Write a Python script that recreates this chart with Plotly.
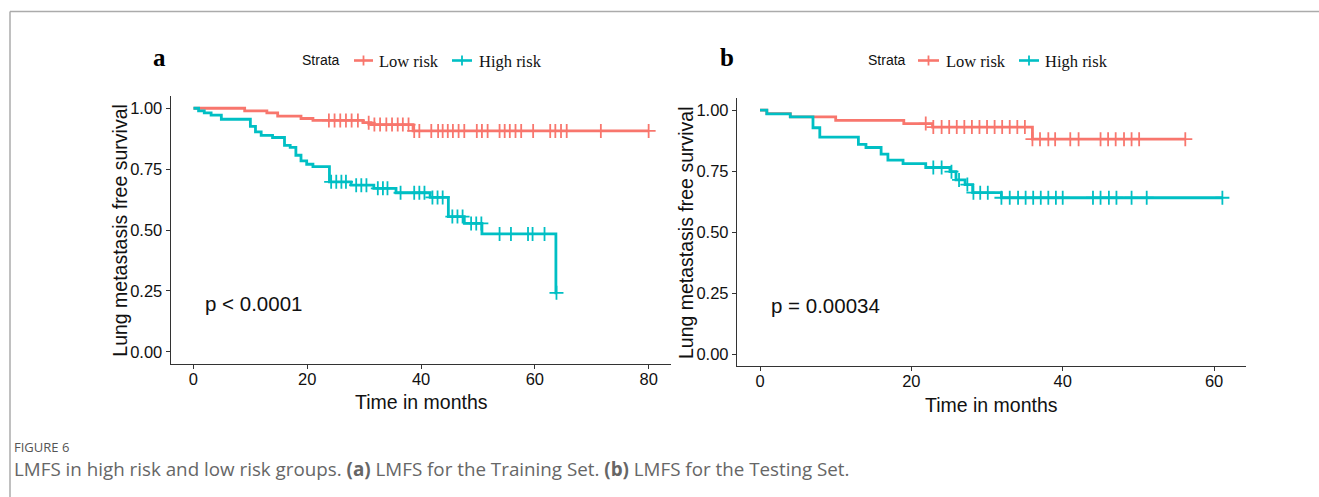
import numpy as np
import plotly.graph_objects as go

W, H = 1319, 497

# ---------------- data ----------------
# Panel a: Training set
a_low_times = [0, 9.0, 12.9, 14.8, 18.9, 21.0, 29.8, 31.2, 38.6]
a_low_surv = [1.0, 0.989, 0.981, 0.968, 0.958, 0.950, 0.941, 0.933, 0.907]
a_low_censor = [23.8, 24.8, 25.8, 26.8, 27.8, 28.9, 30.8, 31.8, 32.8, 33.9, 34.9, 35.9,
                36.8, 37.8, 38.8, 39.7, 41.8, 43.0, 43.8, 44.7, 45.6, 46.6, 47.6, 49.8,
                50.7, 51.7, 53.8, 54.7, 55.6, 56.6, 57.6, 59.7, 62.7, 63.6, 64.6, 65.6,
                71.6, 80.0]

a_high_times = [0, 0.9, 1.9, 3.1, 4.9, 10.0, 10.9, 11.9, 13.9, 16.0, 17.0, 18.0, 18.9,
                19.9, 21.0, 23.9, 27.7, 31.7, 35.6, 41.6, 44.8, 47.6, 50.7, 63.7]
a_high_surv = [1.0, 0.989, 0.981, 0.972, 0.955, 0.926, 0.903, 0.889, 0.880, 0.848, 0.839,
               0.807, 0.784, 0.770, 0.760, 0.698, 0.684, 0.671, 0.653, 0.634, 0.555,
               0.527, 0.484, 0.242]
a_high_censor = [24.2, 25.1, 26.0, 26.8, 28.6, 29.5, 30.4, 32.4, 33.3, 34.1, 36.4, 38.8,
                 39.7, 40.6, 42.0, 42.9, 43.8, 45.5, 46.4, 47.3, 48.8, 49.7, 50.6, 53.8,
                 55.8, 58.8, 59.6, 61.7, 63.8]

# Panel b: Testing set
b_low_times = [0, 0.9, 4.0, 10.0, 19.0, 22.8, 36.0]
b_low_surv = [1.0, 0.986, 0.973, 0.958, 0.945, 0.931, 0.881]
b_low_censor = [21.9, 22.9, 24.0, 25.0, 26.0, 27.0, 28.0, 29.0, 30.0, 31.0, 32.0, 33.0,
                34.0, 35.0, 36.0, 37.0, 38.1, 39.0, 41.0, 42.1, 45.0, 46.0, 47.0, 48.1,
                49.1, 50.1, 56.2]

b_high_times = [0, 0.9, 4.0, 7.0, 7.9, 13.0, 14.0, 16.0, 16.9, 18.9, 21.9, 25.1, 25.9,
                27.1, 28.1, 31.9]
b_high_surv = [1.0, 0.985, 0.973, 0.928, 0.890, 0.860, 0.847, 0.820, 0.795, 0.781, 0.765,
               0.748, 0.714, 0.695, 0.662, 0.641]
b_high_censor = [22.9, 24.0, 25.3, 26.3, 27.4, 28.2, 29.1, 30.1, 31.9, 33.0, 34.1, 35.1,
                 36.1, 37.1, 38.1, 39.1, 40.0, 44.0, 45.0, 46.1, 47.1, 49.1, 51.1, 61.1]

strata = ["Low risk", "High risk"]
panel_letters = ["a", "b"]
pvalues = ["p < 0.0001", "p = 0.00034"]
x_ticks_a = [0, 20, 40, 60, 80]
x_ticks_b = [0, 20, 40, 60]
y_ticks = [0.0, 0.25, 0.50, 0.75, 1.00]

# ---------------- styling ----------------
RED = "#F8766D"
TEAL = "#00BFC4"
AXC = "#333333"
SANS = "Liberation Sans, Arial, sans-serif"
SERIF = "Liberation Serif, Times New Roman, serif"


def px(x):
    return x / W


def py(y):
    return 1 - y / H


def step_xy(times, surv, censor):
    end = max(max(times), max(censor) if censor else 0)
    return list(times) + [end], list(surv) + [surv[-1]]


def censor_y(times, surv, censor):
    idx = np.searchsorted(np.array(times), np.array(censor), side="right") - 1
    return [surv[i] for i in idx]


fig = go.Figure()

panels = [
    dict(xa="x", ya="y",
         groups=[(a_low_times, a_low_surv, a_low_censor, RED),
                 (a_high_times, a_high_surv, a_high_censor, TEAL)]),
    dict(xa="x2", ya="y2",
         groups=[(b_low_times, b_low_surv, b_low_censor, RED),
                 (b_high_times, b_high_surv, b_high_censor, TEAL)]),
]

tmaxes = []
for p in panels:
    tmax = 0
    for (t, s, c, col), name in zip(p["groups"], strata):
        xs, ys = step_xy(t, s, c)
        tmax = max(tmax, max(xs))
        fig.add_trace(go.Scatter(x=xs, y=ys, mode="lines", line=dict(color=col, width=2.8, shape="hv"),
                                 name=name, showlegend=False, xaxis=p["xa"], yaxis=p["ya"],
                                 hoverinfo="skip"))
        fig.add_trace(go.Scatter(x=c, y=censor_y(t, s, c), mode="markers",
                                 marker=dict(symbol="cross-thin", size=10, color=col,
                                             line=dict(color=col, width=1.8)),
                                 showlegend=False, xaxis=p["xa"], yaxis=p["ya"], hoverinfo="skip"))
    tmaxes.append(tmax)

# pixel geometry of the two plotting regions
dom_a = dict(x0=170.7, x1=671.4, y0=96.1, y1=363.9)
dom_b = dict(x0=736.9, x1=1245.5, y0=98.0, y1=366.3)

axis_common = dict(showline=True, linecolor=AXC, linewidth=1.2, ticks="outside", ticklen=4,
                   tickwidth=1.2, tickcolor=AXC, showgrid=False, zeroline=False,
                   tickfont=dict(family=SANS, size=16.5, color="#111111"), fixedrange=True)

for i, (dom, ticks, tmax) in enumerate([(dom_a, x_ticks_a, tmaxes[0]), (dom_b, x_ticks_b, tmaxes[1])]):
    sfx = "" if i == 0 else str(i + 1)
    pad = 0.05 * tmax
    fig.update_layout(**{
        "xaxis" + sfx: dict(axis_common, domain=[px(dom["x0"]), px(dom["x1"])],
                            range=[-pad, tmax + pad], tickvals=ticks, anchor="y" + sfx,
                            ticklabelstandoff=-4),
        "yaxis" + sfx: dict(axis_common, domain=[py(dom["y1"]), py(dom["y0"])],
                            range=[-0.05, 1.05], tickvals=y_ticks, tickformat=".2f",
                            anchor="x" + sfx),
    })

ann = []
shapes = []

# frame lines
shapes.append(dict(type="line", xref="paper", yref="paper", x0=px(10), x1=1.0, y0=py(11.5), y1=py(11.5),
                   line=dict(color="#ababab", width=1.5)))
shapes.append(dict(type="line", xref="paper", yref="paper", x0=px(10), x1=px(10), y0=py(11.5), y1=0,
                   line=dict(color="#ababab", width=1.5)))

legend_px = [
    dict(letter_x=159, strata_r=342, red=(354, 373), low_x=377, teal=(452, 472), high_x=477),
    dict(letter_x=726.5, strata_r=908, red=(918, 939), low_x=944, teal=(1019, 1039), high_x=1043),
]
LEG_Y = 60.5

for i, (dom, lg, tmax) in enumerate(zip([dom_a, dom_b], legend_px, tmaxes)):
    sfx = "" if i == 0 else str(i + 1)
    # panel letter
    ann.append(dict(text="<b>%s</b>" % panel_letters[i], x=px(lg["letter_x"]), y=py(57.5),
                    xref="paper", yref="paper", showarrow=False, xanchor="center", yanchor="middle",
                    font=dict(family=SERIF, size=25, color="#000")))
    # legend
    ann.append(dict(text="Strata", x=px(lg["strata_r"]), y=py(LEG_Y), xref="paper", yref="paper",
                    showarrow=False, xanchor="right", yanchor="middle",
                    font=dict(family=SANS, size=14, color="#111")))
    for (x0, x1), col, tx, name in [(lg["red"], RED, lg["low_x"], strata[0]),
                                    (lg["teal"], TEAL, lg["high_x"], strata[1])]:
        shapes.append(dict(type="line", xref="paper", yref="paper", x0=px(x0), x1=px(x1),
                           y0=py(LEG_Y), y1=py(LEG_Y), line=dict(color=col, width=2.6)))
        xm = (x0 + x1) / 2
        shapes.append(dict(type="line", xref="paper", yref="paper", x0=px(xm), x1=px(xm),
                           y0=py(LEG_Y - 5), y1=py(LEG_Y + 5), line=dict(color=col, width=1.8)))
        ann.append(dict(text=name, x=px(tx), y=py(LEG_Y + 0.5), xref="paper", yref="paper",
                        showarrow=False, xanchor="left", yanchor="middle",
                        font=dict(family=SERIF, size=16.5, color="#111")))
    # axis titles
    ann.append(dict(text="Time in months", x=px((dom["x0"] + dom["x1"]) / 2), y=py(dom["y1"] + 38.5),
                    xref="paper", yref="paper", showarrow=False, xanchor="center", yanchor="middle",
                    font=dict(family=SANS, size=19.5, color="#111")))
    ann.append(dict(text="Lung metastasis free survival", x=px(dom["x0"] - 51),
                    y=py((dom["y0"] + dom["y1"]) / 2), xref="paper", yref="paper", showarrow=False,
                    textangle=-90, xanchor="center", yanchor="middle",
                    font=dict(family=SANS, size=19.5, color="#111")))
    # p-value (survminer places it at x = tmax/50, y = 0.2)
    ann.append(dict(text=pvalues[i], x=tmax / 50, y=0.2, xref="x" + sfx, yref="y" + sfx,
                    showarrow=False, xanchor="left", yanchor="middle",
                    font=dict(family=SANS, size=20.5, color="#111")))

# caption
ann.append(dict(text="FIGURE 6", x=px(12), y=py(447), xref="paper", yref="paper", showarrow=False,
                xanchor="left", yanchor="middle", font=dict(family="Open Sans", size=13, color="#555")))
ann.append(dict(text="LMFS in high risk and low risk groups. <b>(a)</b> LMFS for the Training Set. "
                     "<b>(b)</b> LMFS for the Testing Set.",
                x=px(12), y=py(469), xref="paper", yref="paper", showarrow=False,
                xanchor="left", yanchor="middle", font=dict(family="Open Sans", size=18.8, color="#666")))

fig.update_layout(width=W, height=H, margin=dict(l=0, r=0, t=0, b=0), paper_bgcolor="white",
                  plot_bgcolor="white", annotations=ann, shapes=shapes, showlegend=False)

fig.write_html("out.html")
